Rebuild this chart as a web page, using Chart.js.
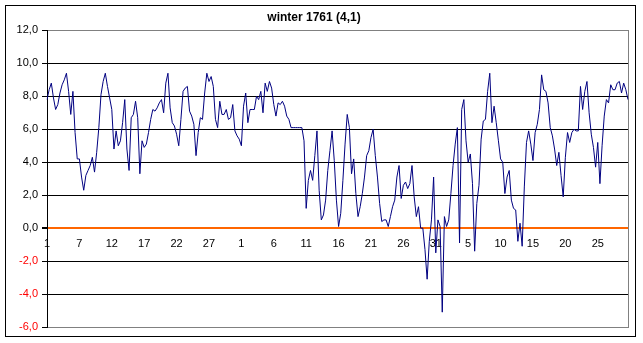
<!DOCTYPE html>
<html>
<head>
<meta charset="utf-8">
<script src="https://cdn.jsdelivr.net/npm/chart.js@4/dist/chart.umd.min.js"></script>
<style>
  html, body { margin: 0; padding: 0; background: #fff; }
  #wrap { width: 643px; height: 343px; }
</style>
</head>
<body>
<div id="wrap"><canvas id="c" width="643" height="343"></canvas></div>
<script>
'use strict';

let title = 'winter 1761 (4,1)';

// 3 readings a day, 1 Dec 1760 - 28 Feb 1761
let temps = [
	7.8, 8.4, 8.8, 7.9, 7.2, 7.5, 8.2, 8.7, 9.0, 9.4,
	8.3, 6.9, 8.3, 5.8, 4.2, 4.2, 3.1, 2.3, 3.2, 3.5,
	3.8, 4.3, 3.4, 4.6, 6.1, 8.1, 8.9, 9.4, 8.6, 7.9,
	7.2, 4.8, 5.9, 5.0, 5.3, 6.4, 7.8, 4.8, 3.5, 6.7,
	6.9, 7.7, 6.7, 3.3, 5.3, 4.9, 5.1, 5.8, 6.6, 7.2,
	7.1, 7.3, 7.6, 7.8, 7.0, 8.8, 9.4, 7.3, 6.4, 6.2,
	5.7, 5.0, 6.6, 8.3, 8.5, 8.6, 7.1, 6.8, 6.3, 4.4,
	5.8, 6.7, 6.6, 8.2, 9.4, 8.9, 9.2, 8.6, 6.6, 6.1,
	7.7, 6.9, 6.9, 7.2, 6.6, 6.7, 7.5, 5.9, 5.6, 5.4,
	5.0, 7.4, 8.2, 6.4, 7.2, 7.2, 7.2, 8.0, 7.8, 8.3,
	7.0, 8.8, 8.3, 8.9, 8.5, 7.5, 6.8, 7.6, 7.5, 7.7,
	7.4, 6.8, 6.6, 6.1, 6.1, 6.1, 6.1, 6.1, 6.1, 5.3,
	1.2, 2.9, 3.5, 2.9, 4.4, 5.9, 2.3, 0.5, 0.8, 1.7,
	3.5, 4.7, 5.9, 4.1, 1.7, 0.1, 0.9, 2.9, 5.1, 6.9,
	6.1, 3.3, 4.2, 2.1, 0.7, 1.3, 2.1, 3.1, 4.4, 4.7,
	5.5, 6.0, 4.4, 3.1, 1.5, 0.4, 0.5, 0.5, 0.1, 0.7,
	1.3, 1.7, 3.1, 3.8, 1.8, 2.6, 2.8, 2.4, 2.7, 3.8,
	1.9, 0.7, 1.3, 0.0, 0.0, -1.3, -3.1, -0.8, 0.5, 3.1,
	-1.5, 0.5, 0.1, -5.1, 0.7, 0.1, 0.5, 2.1, 3.8, 5.1,
	6.1, -0.9, 7.2, 7.8, 5.3, 4.0, 4.5, 2.7, -1.4, 1.5,
	2.6, 5.4, 6.5, 6.6, 8.3, 9.4, 6.4, 7.4, 6.4, 5.3,
	4.2, 4.0, 2.1, 3.1, 3.5, 1.7, 1.2, 1.1, -0.8, 0.3,
	-1.1, 2.5, 5.2, 5.9, 5.1, 4.1, 5.8, 6.3, 7.2, 9.3,
	8.4, 8.3, 7.6, 6.1, 5.6, 4.8, 3.8, 4.6, 3.2, 1.9,
	4.3, 5.8, 5.2, 5.8, 6.0, 5.9, 5.9, 8.6, 7.2, 8.3,
	8.9, 7.0, 5.7, 4.9, 3.7, 5.2, 2.7, 5.0, 6.8, 7.8,
	7.6, 8.7, 8.4, 8.4, 8.8, 8.9, 8.2, 8.8, 8.4, 7.8
];

// day labels shown on the category axis, one every 15 readings
let tickLabels = ['1', '7', '12', '17', '22', '27', '1', '6', '11', '16', '21', '26', '31', '5', '10', '15', '20', '25'];
let labelEvery = 15;

let yMin = -6;
let yMax = 12;
let yStep = 2;

let font = 'Liberation Sans, Arial, sans-serif';

let frame = {
	id: 'frame',
	beforeDraw: (chart) => {
		let ctx = chart.ctx;
		let a = chart.chartArea;
		ctx.save();
		ctx.fillStyle = '#fff';
		ctx.fillRect(0, 0, chart.width, chart.height);
		ctx.strokeStyle = '#000';
		ctx.lineWidth = 1;
		ctx.strokeRect(5.5, 5.5, 630, 331);
		ctx.strokeStyle = '#808080';
		ctx.strokeRect(Math.round(a.left) + 0.5, Math.round(a.top) + 0.5, Math.round(a.right - a.left), Math.round(a.bottom - a.top));
		ctx.restore();
	}
};

let comma = (v) => v.toFixed(1).replace('.', ',');

new Chart(document.getElementById('c'), {
	type: 'line',
	data: {
		labels: temps.map((t, i) => i),
		datasets: [{
			data: temps,
			borderColor: '#000080',
			borderWidth: 1,
			pointRadius: 0,
			tension: 0,
			fill: false
		}]
	},
	options: {
		responsive: false,
		animation: false,
		layout: { padding: { left: 0, right: 15, top: 0, bottom: 16 } },
		plugins: {
			legend: { display: false },
			tooltip: { enabled: false },
			title: {
				display: true,
				text: title,
				color: '#000',
				font: { family: font, size: 12, weight: 'bold' },
				padding: { top: 10, bottom: 6 }
			}
		},
		scales: {
			x: {
				type: 'category',
				offset: false,
				position: { y: 0 },
				grid: { display: false, drawTicks: false },
				border: { display: false },
				ticks: {
					autoSkip: false,
					maxRotation: 0,
					minRotation: 0,
					padding: 9,
					color: '#000',
					font: { family: font, size: 11 },
					callback: (v, i) => (i % labelEvery === 0 ? tickLabels[i / labelEvery] : null)
				}
			},
			y: {
				min: yMin,
				max: yMax,
				afterFit: (scale) => { scale.width = 47; },
				border: { display: true, color: '#000', width: 1 },
				grid: {
					color: (c) => {
						let v = c.tick.value;
						if (v === 0) return '#FF6600';
						if (v === yMin || v === yMax) return '#808080';
						return '#000';
					},
					lineWidth: (c) => (c.tick.value === 0 ? 2 : 1),
					tickColor: '#000',
					tickLength: 5
				},
				ticks: {
					stepSize: yStep,
					padding: 4,
					font: { family: font, size: 11 },
					color: (c) => (c.tick.value < 0 ? '#FF0000' : '#000'),
					callback: (v) => comma(v)
				}
			}
		}
	},
	plugins: [frame]
});
</script>
</body>
</html>
